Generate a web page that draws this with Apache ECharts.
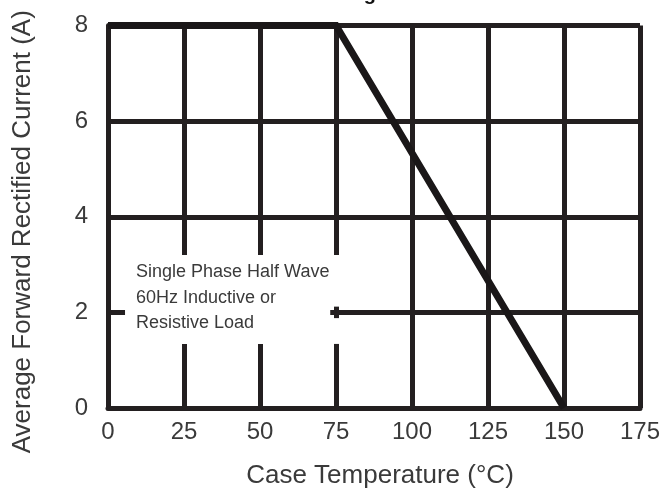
<!DOCTYPE html>
<html>
<head>
<meta charset="utf-8">
<script src="https://cdn.jsdelivr.net/npm/echarts@6/dist/echarts.min.js"></script>
<style>
html,body{margin:0;padding:0;background:#fff;}
#c{width:664px;height:491px;}
</style>
</head>
<body>
<div id="c"></div>
<script>
// Data
var temperature = [0, 75, 150];
var current = [8, 8, 0];
var xTicks = [0, 25, 50, 75, 100, 125, 150, 175];
var yTicks = [0, 2, 4, 6, 8];
var annotationLines = ['Single Phase Half Wave', '60Hz Inductive or', 'Resistive Load'];
var xTitle = 'Case Temperature (\u00B0C)';
var yTitle = 'Average Forward Rectified Current (A)';
var chartTitle = 'Current Derating';

var FONT = "'Liberation Sans', Arial, sans-serif";
var GRID_COLOR = '#231f20';
var TEXT_COLOR = '#3a3a3a';

var chart = echarts.init(document.getElementById('c'), null, {renderer: 'canvas'});

var option = {
  animation: false,
  backgroundColor: '#fff',
  grid: {left: 108, right: 24, top: 25.5, bottom: 83, outerBoundsMode: 'none', containLabel: false},
  xAxis: {
    type: 'value', min: xTicks[0], max: xTicks[xTicks.length - 1], interval: 25,
    axisLine: {show: true, lineStyle: {color: GRID_COLOR, width: 5}},
    axisTick: {show: false},
    splitLine: {show: true, lineStyle: {color: GRID_COLOR, width: 5}},
    axisLabel: {color: TEXT_COLOR, fontFamily: FONT, fontSize: 24, margin: 12},
    name: xTitle, nameLocation: 'middle', nameGap: 55,
    nameTextStyle: {color: TEXT_COLOR, fontFamily: FONT, fontSize: 26, padding: [0, 0, 0, 12]}
  },
  yAxis: {
    type: 'value', min: yTicks[0], max: yTicks[yTicks.length - 1], interval: 2,
    axisLine: {show: true, lineStyle: {color: GRID_COLOR, width: 5}},
    axisTick: {show: false},
    splitLine: {show: true, lineStyle: {color: GRID_COLOR, width: 5}},
    axisLabel: {color: TEXT_COLOR, fontFamily: FONT, fontSize: 24, margin: 20},
    name: yTitle, nameLocation: 'middle', nameGap: 72,
    nameTextStyle: {color: TEXT_COLOR, fontFamily: FONT, fontSize: 26, padding: [0, 30, 0, 0]}
  },
  series: [{
    type: 'line',
    data: temperature.map(function (t, i) { return [t, current[i]]; }),
    showSymbol: false,
    clip: false,
    lineStyle: {color: '#1a1718', width: 7, cap: 'butt', join: 'miter'},
    z: 5
  }]
};
chart.setOption(option);

function px(x, y) { return chart.convertToPixel({gridIndex: 0}, [x, y]); }

var boxTL = px(5.6, 3.2), boxBR = px(73.1, 1.34);
var gapA1 = px(73.1, 3.2), gapA2 = px(76.6, 2.12);
var gapB1 = px(73.1, 1.88), gapB2 = px(76.6, 1.34);
var lineYs = [2.85, 2.30, 1.78];

var graphics = [
  {type: 'rect', z: 10, shape: {x: boxTL[0], y: boxTL[1], width: boxBR[0] - boxTL[0], height: boxBR[1] - boxTL[1]}, style: {fill: '#fff'}},
  {type: 'rect', z: 10, shape: {x: gapA1[0], y: gapA1[1], width: gapA2[0] - gapA1[0], height: gapA2[1] - gapA1[1]}, style: {fill: '#fff'}},
  {type: 'rect', z: 10, shape: {x: gapB1[0], y: gapB1[1], width: gapB2[0] - gapB1[0], height: gapB2[1] - gapB1[1]}, style: {fill: '#fff'}},
  {type: 'text', z: 11, x: 376, y: -6, style: {text: chartTitle, fill: '#111', font: "bold 20px 'Liberation Sans', sans-serif", textAlign: 'right', textVerticalAlign: 'middle'}}
];
annotationLines.forEach(function (t, i) {
  var p = px(9.2, lineYs[i]);
  graphics.push({type: 'text', z: 11, x: p[0], y: p[1], style: {text: t, fill: TEXT_COLOR, font: "18px " + FONT, textAlign: 'left', textVerticalAlign: 'middle'}});
});
chart.setOption({graphic: graphics});
</script>
</body>
</html>
